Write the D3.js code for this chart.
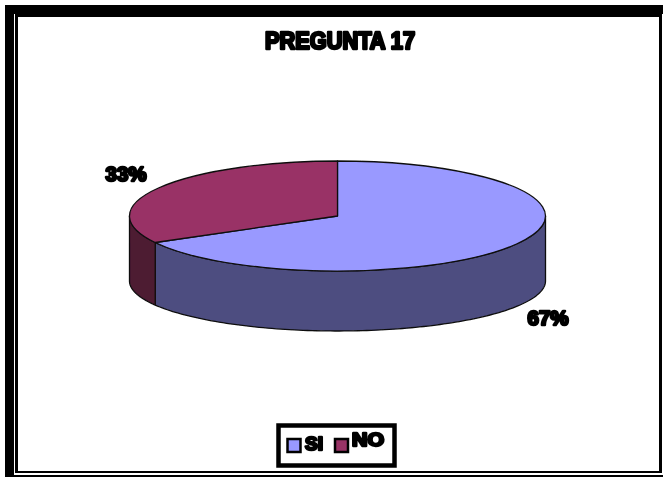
<!DOCTYPE html>
<html><head><meta charset="utf-8">
<script src="https://cdn.jsdelivr.net/npm/d3@7"></script>
<style>html,body{margin:0;padding:0;background:#fff}svg{display:block}
text{font-family:"Liberation Sans",Arial,sans-serif;font-weight:700;fill:#000;stroke:#000;stroke-linejoin:round}</style>
</head><body><svg id="c" width="663" height="477"></svg>
<script>
const categories = ["SI", "NO"];
const values = [67, 33];
const labels = ["67%", "33%"];
const title = "PREGUNTA 17";
const topColors = ["#9999ff", "#993366"];
const sideColors = ["#4d4d80", "#4d1a33"];

const W = 663, H = 477;
const svg = d3.select("#c");
const defs = svg.append("defs");
defs.append("filter").attr("id","soft").attr("x","-5%").attr("y","-5%").attr("width","110%").attr("height","110%")
  .append("feGaussianBlur").attr("stdDeviation",0.5);
defs.append("filter").attr("id","softT").attr("x","-10%").attr("y","-20%").attr("width","120%").attr("height","140%")
  .append("feGaussianBlur").attr("stdDeviation",0.55);

// frame
const frame = svg.append("g").attr("shape-rendering","crispEdges");
frame.append("rect").attr("x",5).attr("y",5).attr("width",W-5).attr("height",9);
frame.append("rect").attr("x",5).attr("y",5).attr("width",9).attr("height",H-5);
frame.append("rect").attr("x",5).attr("y",475).attr("width",W-5).attr("height",2);
frame.append("rect").attr("x",16.5).attr("y",15.5).attr("width",644).attr("height",456.5)
  .attr("fill","none").attr("stroke","#000").attr("stroke-width",2.4);

// title
svg.append("text").attr("x",340).attr("y",48.5).attr("text-anchor","middle")
  .attr("font-size",23).attr("stroke-width",2.6).attr("filter","url(#softT)")
  .attr("textLength",150).attr("lengthAdjust","spacingAndGlyphs").text(title);

// pie
const cx = 337.5, cy = 216, rx = 208, ry = 55, by = 281, bry = 50;
const pie = d3.pie().sort(null).startAngle(0).endAngle(2*Math.PI)(values);
const g = svg.append("g").attr("filter","url(#soft)");

const sx = d3.scaleLinear().domain([-1,1]).range([cx-rx,cx+rx]);
const syT = d3.scaleLinear().domain([-1,1]).range([cy-ry,cy+ry]);
const syB = d3.scaleLinear().domain([-1,1]).range([by-bry,by+bry]);
const area = d3.area()
  .x(a=>sx(Math.sin(a)))
  .y0(a=>syT(-Math.cos(a)))
  .y1(a=>syB(-Math.cos(a)));

pie.forEach((d,i)=>{
  const a0 = Math.max(d.startAngle, Math.PI/2), a1 = Math.min(d.endAngle, 3*Math.PI/2);
  if (a1 <= a0) return;
  const n = 120, angles = d3.range(n+1).map(k=>a0+(a1-a0)*k/n);
  g.append("path").attr("d",area(angles)).attr("fill",sideColors[i])
    .attr("stroke","#111").attr("stroke-width",1.3).attr("stroke-linejoin","round");
});
const arc = d3.arc().innerRadius(0).outerRadius(rx);
pie.forEach((d,i)=>{
  g.append("path").attr("d",arc(d))
    .attr("transform",`translate(${cx},${cy}) scale(1,${ry/rx})`)
    .attr("fill",topColors[i]).attr("stroke","#111").attr("stroke-width",1.3)
    .attr("vector-effect","non-scaling-stroke").attr("stroke-linejoin","round");
});

// data labels
const labelPos = [[548,324.5],[126,180.5]];
labels.forEach((t,i)=>{
  svg.append("text").attr("x",labelPos[i][0]).attr("y",labelPos[i][1]).attr("text-anchor","middle")
    .attr("font-size",21).attr("stroke-width",2.6).attr("filter","url(#softT)")
    .attr("textLength",41).attr("lengthAdjust","spacingAndGlyphs").text(t);
});

// legend
const lg = svg.append("g");
lg.append("rect").attr("x",278.5).attr("y",425.5).attr("width",116).attr("height",40)
  .attr("fill","#fff").attr("stroke","#000").attr("stroke-width",4.5);
const swX = [287.5, 335], txX = [305, 352], txY = [450, 446], txW = [18, 32];
categories.forEach((c,i)=>{
  lg.append("rect").attr("x",swX[i]).attr("y",439).attr("width",13).attr("height",13)
    .attr("fill",topColors[i]).attr("stroke","#000").attr("stroke-width",2.5);
  lg.append("text").attr("x",txX[i]).attr("y",txY[i]).attr("font-size",18).attr("stroke-width",2.4)
    .attr("filter","url(#softT)").attr("textLength",txW[i]).attr("lengthAdjust","spacingAndGlyphs").text(c);
});
</script></body></html>
